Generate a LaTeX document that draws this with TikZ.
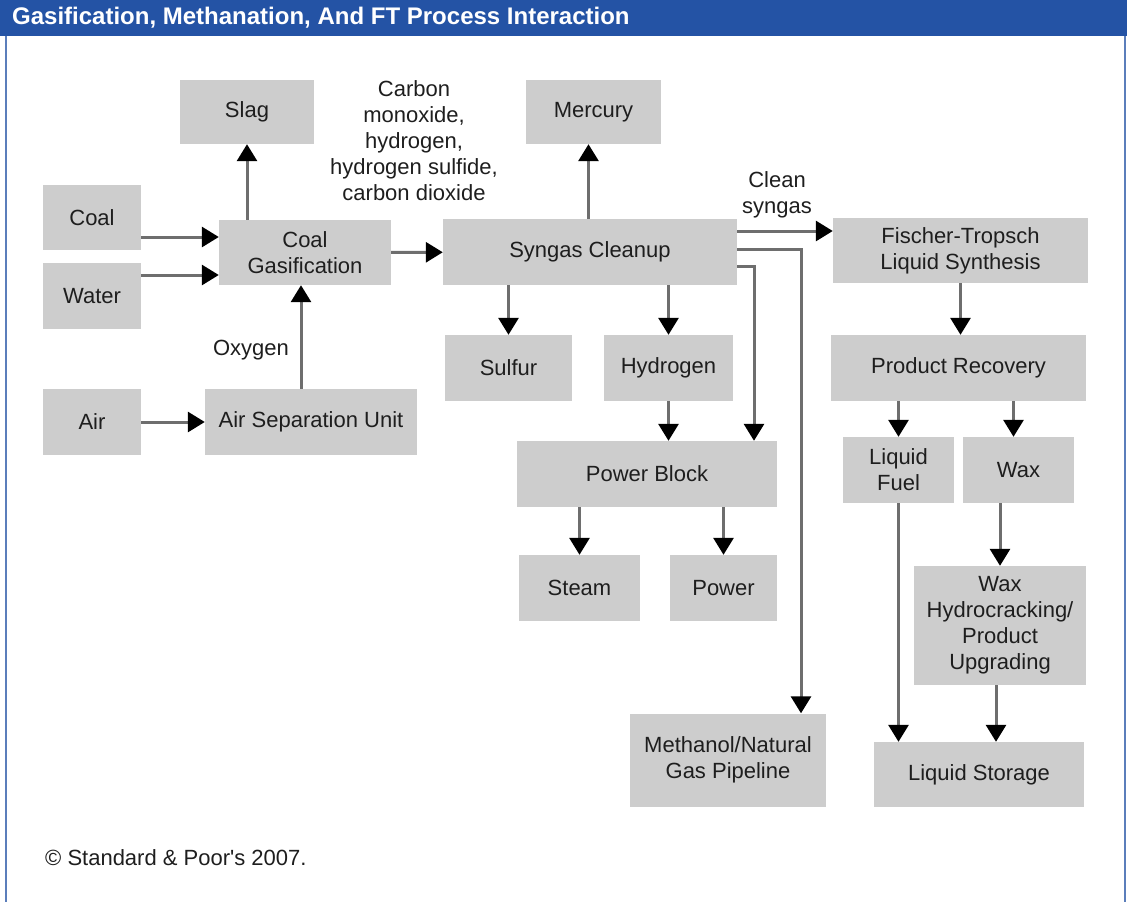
\documentclass[tikz,border=0pt]{standalone}
\usepackage{fontspec}
\setmainfont{Liberation Sans}
\usetikzlibrary{arrows.meta}
\definecolor{headblue}{RGB}{36,83,165}
\definecolor{boxgray}{RGB}{205,205,205}
\definecolor{linegray}{RGB}{110,110,110}
\definecolor{txtgray}{RGB}{30,30,30}
\begin{document}
\begin{tikzpicture}[x=1pt,y=-1pt,
    box/.style 2 args={fill=boxgray,minimum width=#1,minimum height=#2,inner sep=0pt,align=center,text=txtgray},
    flow/.style={draw=linegray,line width=3pt,-{Triangle[width=20pt,length=17pt,color=black]}},
    lbl/.style={align=center,text=txtgray,inner sep=0pt},
    font=\fontsize{22}{26}\selectfont]
        \useasboundingbox (0,0) rectangle (1127,902);
        % frame and title bar
        \fill[headblue] (0,0) rectangle (1127,36);
        \draw[headblue!75,line width=2pt] (6,36)--(6,902);
        \draw[headblue!75,line width=2pt] (1125,36)--(1125,902);
        \node[anchor=west,inner sep=0pt,text=white,font=\fontsize{24}{28}\selectfont\bfseries] (title) at (12,18) {Gasification, Methanation, And FT Process Interaction};
        % gasification side
        \node[box={134}{64}] (slag) at (247,112) {Slag};
        \node[box={98}{65}] (coal) at (92,217.5) {Coal};
        \node[box={98}{66}] (water) at (92,296) {Water};
        \node[box={98}{66}] (air) at (92,422) {Air};
        \node[box={172}{65}] (gasif) at (305,252.5) {Coal\\Gasification};
        \node[box={212}{66}] (asu) at (311,422) {Air Separation Unit};
        % cleanup and power
        \node[box={135}{64}] (mercury) at (593.5,112) {Mercury};
        \node[box={294}{66}] (syngas) at (590,252) {Syngas Cleanup};
        \node[box={127}{66}] (sulfur) at (508.5,368) {Sulfur};
        \node[box={129}{66}] (hydrogen) at (668.5,368) {Hydrogen};
        \node[box={260}{66}] (pblock) at (647,474) {Power Block};
        \node[box={121}{66}] (steam) at (579.5,588) {Steam};
        \node[box={107}{66}] (power) at (723.5,588) {Power};
        \node[box={196}{93}] (methanol) at (728,760) {Methanol/Natural\\Gas Pipeline};
        % FT side
        \node[box={255}{65}] (ft) at (960.5,250.5) {Fischer-Tropsch\\Liquid Synthesis};
        \node[box={255}{66}] (recovery) at (958.5,368) {Product Recovery};
        \node[box={111}{66}] (fuel) at (898.5,470) {Liquid\\Fuel};
        \node[box={111}{66}] (wax) at (1018.5,470) {Wax};
        \node[box={172}{119}] (hydro) at (1000,625.5) {Wax\\Hydrocracking/\\Product\\Upgrading};
        \node[box={210}{65}] (storage) at (979,774.5) {Liquid Storage};
        % labels
        \node[lbl] (gases) at (414,141) {Carbon\\monoxide,\\hydrogen,\\hydrogen sulfide,\\carbon dioxide};
        \node[lbl] (clean) at (777,195) {Clean\\syngas};
        \node[lbl] (oxygen) at (251,350) {Oxygen};
        \node[lbl,anchor=west] (copy) at (45,858) {\textcopyright{} Standard \& Poor\textquotesingle s 2007.};
        % connectors
        \draw[flow] ([yshift=-19.5]coal.east) -- ([yshift=-19.5]coal.east -| gasif.west);
        \draw[flow] ([yshift=21]water.east) -- ([yshift=21]water.east -| gasif.west);
        \draw[flow] (air) -- (asu);
        \draw[flow] ([xshift=-10]asu.north) -- ([xshift=-10]asu.north |- gasif.south);
        \draw[flow] (gasif.north -| slag.south) -- (slag.south);
        \draw[flow] (gasif) -- (syngas);
        \draw[flow] ([xshift=-5]mercury.south |- syngas.north) -- ([xshift=-5]mercury.south);
        \draw[flow] ([yshift=21]syngas.east) -- ([yshift=21]syngas.east -| ft.west);
        \draw[flow] ([yshift=3]syngas.east) -| ([xshift=73]methanol.north);
        \draw[flow] ([yshift=-14]syngas.east) -| ([xshift=107]pblock.north);
        \draw[flow] (syngas.south -| sulfur.north) -- (sulfur.north);
        \draw[flow] (syngas.south -| hydrogen.north) -- (hydrogen.north);
        \draw[flow] (hydrogen.south) -- (hydrogen.south |- pblock.north);
        \draw[flow] (pblock.south -| steam.north) -- (steam.north);
        \draw[flow] (pblock.south -| power.north) -- (power.north);
        \draw[flow] (ft.south) -- (ft.south |- recovery.north);
        \draw[flow] (recovery.south -| fuel.north) -- (fuel.north);
        \draw[flow] ([xshift=-5]wax.north |- recovery.south) -- ([xshift=-5]wax.north);
        \draw[flow] (wax.south -| hydro.north) -- (hydro.north);
        \draw[flow] (fuel.south) -- (fuel.south |- storage.north);
        \draw[flow] ([xshift=-4]hydro.south) -- ([xshift=-4]hydro.south |- storage.north);
      \end{tikzpicture}
\end{document}
